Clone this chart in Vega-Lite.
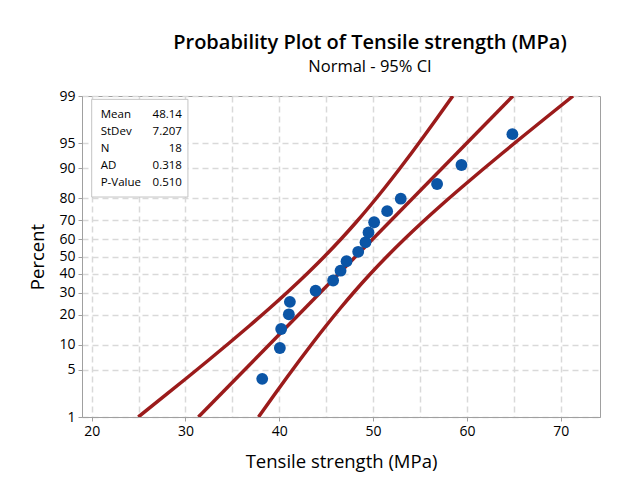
{
  "$schema": "https://vega.github.io/schema/vega-lite/v6.json",
  "width": 518,
  "height": 321,
  "autosize": {"type": "none"},
  "padding": {"left": 82, "top": 96, "right": 39, "bottom": 73},
  "background": "white",
  "title": {
    "text": "Probability Plot of Tensile strength (MPa)",
    "subtitle": "Normal - 95% CI",
    "anchor": "middle",
    "dx": 29,
    "font": "Open Sans",
    "subtitleFont": "Open Sans",
    "fontSize": 20,
    "fontWeight": 600,
    "subtitleFontSize": 16.5,
    "subtitleFontWeight": "normal",
    "color": "#000000",
    "subtitleColor": "#000000",
    "offset": 14,
    "subtitlePadding": 6
  },
  "config": {
    "font": "Open Sans",
    "view": {"stroke": "#a0a0a0", "strokeWidth": 1},
    "axis": {
      "domainColor": "#a0a0a0",
      "tickColor": "#a0a0a0",
      "gridColor": "#d9d9d9",
      "gridDash": [6, 4],
      "gridWidth": 1.5,
      "labelFont": "Open Sans",
      "labelFontSize": 14,
      "labelColor": "#000000",
      "labelOverlap": false,
      "titleFont": "Open Sans",
      "titleFontSize": 18.5,
      "titleFontWeight": "normal",
      "titleColor": "#000000"
    }
  },
  "layer": [
    {
      "data": {
        "values": [
          {"series": "lower", "x": 24.965, "z": -2.3263},
          {"series": "lower", "x": 27.959, "z": -2},
          {"series": "lower", "x": 30.231, "z": -1.75},
          {"series": "lower", "x": 32.477, "z": -1.5},
          {"series": "lower", "x": 34.687, "z": -1.25},
          {"series": "lower", "x": 36.855, "z": -1},
          {"series": "lower", "x": 38.966, "z": -0.75},
          {"series": "lower", "x": 41.006, "z": -0.5},
          {"series": "lower", "x": 42.957, "z": -0.25},
          {"series": "lower", "x": 44.811, "z": 0},
          {"series": "lower", "x": 46.561, "z": 0.25},
          {"series": "lower", "x": 48.213, "z": 0.5},
          {"series": "lower", "x": 49.776, "z": 0.75},
          {"series": "lower", "x": 51.269, "z": 1},
          {"series": "lower", "x": 52.705, "z": 1.25},
          {"series": "lower", "x": 54.098, "z": 1.5},
          {"series": "lower", "x": 55.455, "z": 1.75},
          {"series": "lower", "x": 56.787, "z": 2},
          {"series": "lower", "x": 58.497, "z": 2.3263},
          {"series": "upper", "x": 37.783, "z": -2.3263},
          {"series": "upper", "x": 39.493, "z": -2},
          {"series": "upper", "x": 40.825, "z": -1.75},
          {"series": "upper", "x": 42.184, "z": -1.5},
          {"series": "upper", "x": 43.575, "z": -1.25},
          {"series": "upper", "x": 45.011, "z": -1},
          {"series": "upper", "x": 46.504, "z": -0.75},
          {"series": "upper", "x": 48.068, "z": -0.5},
          {"series": "upper", "x": 49.719, "z": -0.25},
          {"series": "upper", "x": 51.47, "z": 0},
          {"series": "upper", "x": 53.323, "z": 0.25},
          {"series": "upper", "x": 55.275, "z": 0.5},
          {"series": "upper", "x": 57.314, "z": 0.75},
          {"series": "upper", "x": 59.425, "z": 1},
          {"series": "upper", "x": 61.593, "z": 1.25},
          {"series": "upper", "x": 63.805, "z": 1.5},
          {"series": "upper", "x": 66.049, "z": 1.75},
          {"series": "upper", "x": 68.321, "z": 2},
          {"series": "upper", "x": 71.315, "z": 2.3263},
          {"series": "fit", "x": 31.374, "z": -2.3263},
          {"series": "fit", "x": 64.906, "z": 2.3263}
        ]
      },
      "mark": {"type": "line", "color": "#9b1b1b", "strokeWidth": 3.5, "interpolate": "monotone", "clip": true},
      "encoding": {
        "x": {
          "field": "x",
          "type": "quantitative",
          "title": "Tensile strength (MPa)",
          "scale": {"domain": [18.967, 74.19], "nice": false, "zero": false},
          "axis": {
            "values": [20, 25, 30, 35, 40, 45, 50, 55, 60, 65, 70],
            "tickCount": 30,
            "labelExpr": "datum.value % 10 === 0 ? datum.label : ''",
            "labelOverlap": false,
            "grid": true,
            "tickSize": 4,
            "tickOpacity": {"condition": {"test": "datum.value % 10 !== 0", "value": 0}, "value": 1},
            "labelPadding": 3,
            "titlePadding": 14
          }
        },
        "y": {
          "field": "z",
          "type": "quantitative",
          "title": "Percent",
          "scale": {"domain": [-2.3263, 2.3263], "nice": false, "zero": false},
          "axis": {
            "values": [-2.3263, -1.6449, -1.2816, -0.8416, -0.5244, -0.2533, 0, 0.2533, 0.5244, 0.8416, 1.2816, 1.6449, 2.3263],
            "tickCount": 30,
            "labelExpr": "format(cumulativeNormal(datum.value) * 100, '.0f')",
            "labelOverlap": false,
            "labelBound": false,
            "labelFlush": false,
            "grid": true,
            "tickSize": 4,
            "labelPadding": 3,
            "titlePadding": 11
          }
        },
        "detail": {"field": "series", "type": "nominal"},
        "order": {"field": "z", "type": "quantitative"}
      }
    },
    {
      "data": {
        "values": [
          {"x": 38.18, "z": -1.7737},
          {"x": 40.06, "z": -1.3264},
          {"x": 40.2, "z": -1.0504},
          {"x": 41.02, "z": -0.8378},
          {"x": 41.13, "z": -0.6572},
          {"x": 43.87, "z": -0.4961},
          {"x": 45.74, "z": -0.3478},
          {"x": 46.53, "z": -0.2058},
          {"x": 47.17, "z": -0.0681},
          {"x": 48.41, "z": 0.0681},
          {"x": 49.19, "z": 0.2058},
          {"x": 49.51, "z": 0.3478},
          {"x": 50.11, "z": 0.4961},
          {"x": 51.5, "z": 0.6572},
          {"x": 52.95, "z": 0.8378},
          {"x": 56.82, "z": 1.0504},
          {"x": 59.42, "z": 1.3264},
          {"x": 64.85, "z": 1.7737}
        ]
      },
      "mark": {"type": "point", "filled": true, "opacity": 1, "color": "#0b55a6", "size": 140, "shape": "circle"},
      "encoding": {
        "x": {"field": "x", "type": "quantitative", "title": "Tensile strength (MPa)"},
        "y": {"field": "z", "type": "quantitative", "title": "Percent"}
      }
    },
    {
      "data": {"values": [{"box": "stats"}]},
      "mark": {"type": "rect", "fill": "white", "stroke": "#c4c4c4", "strokeWidth": 1},
      "encoding": {
        "x": {"datum": 20.0, "type": "quantitative", "title": "Tensile strength (MPa)"},
        "x2": {"datum": 30.26},
        "y": {"datum": 2.278, "type": "quantitative", "title": "Percent"},
        "y2": {"datum": 0.862}
      }
    },
    {
      "data": {
        "values": [
          {"stat": "Mean", "value": "48.14"},
          {"stat": "StDev", "value": "7.207"},
          {"stat": "N", "value": "18"},
          {"stat": "AD", "value": "0.318"},
          {"stat": "P-Value", "value": "0.510"}
        ]
      },
      "layer": [
        {
          "mark": {"type": "text", "align": "left", "baseline": "middle", "fontSize": 11.5, "color": "#000000"},
          "encoding": {
            "x": {"datum": 20.96, "title": "Tensile strength (MPa)"},
            "y": {"datum": 2.051, "title": "Percent"},
            "yOffset": {"field": "stat", "type": "nominal", "sort": ["Mean", "StDev", "N", "AD", "P-Value"], "scale": {"type": "point", "range": [0, 68], "padding": 0}},
            "text": {"field": "stat"}
          }
        },
        {
          "mark": {"type": "text", "align": "right", "baseline": "middle", "fontSize": 11.5, "color": "#000000"},
          "encoding": {
            "x": {"datum": 29.62, "title": "Tensile strength (MPa)"},
            "y": {"datum": 2.051, "title": "Percent"},
            "yOffset": {"field": "stat", "type": "nominal", "sort": ["Mean", "StDev", "N", "AD", "P-Value"], "scale": {"type": "point", "range": [0, 68], "padding": 0}},
            "text": {"field": "value"}
          }
        }
      ]
    }
  ]
}
